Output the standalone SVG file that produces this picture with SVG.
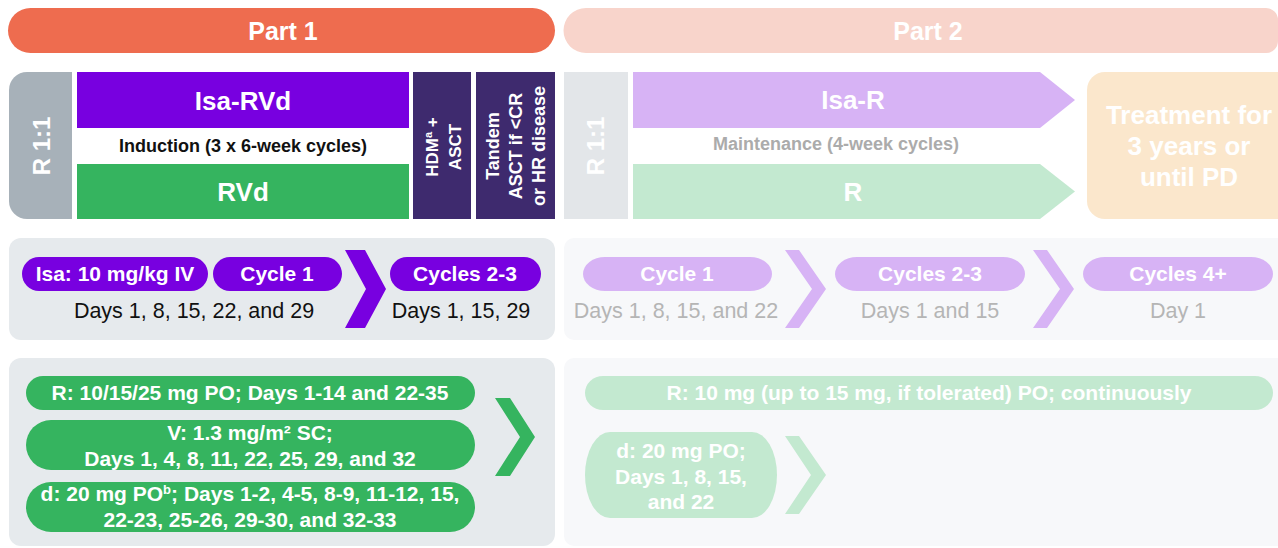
<svg xmlns="http://www.w3.org/2000/svg" width="1278" height="548" viewBox="0 0 1278 548">
<style>
text{font-family:"Liberation Sans",Arial,sans-serif;}
.b{font-weight:bold;}
.w{fill:#ffffff;}
.m{text-anchor:middle;}
.t26{font-size:26px;}
.t25{font-size:25px;}
.t24{font-size:24px;}
.t21{font-size:21px;}
.td{font-size:21.5px;}
.t18{font-size:18px;}
.t17{font-size:17px;}
.pur{fill:#7800E0;}
.grn{fill:#35B45F;}
.lpur{fill:#D7B3F5;}
.lgrn{fill:#C3E9D0;}
.dk{fill:#3E2A6E;}
.day1{fill:#111111;}
.day2{fill:#B5B5B5;}
</style>

<g id="part1-header">
<rect x="8" y="8" width="547" height="45" rx="22.5" fill="#EE6C4F"/>
<text x="283" y="40" class="b w m t25">Part 1</text>
</g>
<g id="part2-header">
<path d="M586,8 H1266 A12,12 0 0 1 1278,20 V41 A12,12 0 0 1 1266,53 H586 A22.5,22.5 0 0 1 586,8 Z" fill="#F8D4CB"/>
<text x="928" y="40" class="b w m t25">Part 2</text>
</g>

<g id="r11-part1">
<path d="M27,72 H72 V219 H27 A18,18 0 0 1 9,201 V90 A18,18 0 0 1 27,72 Z" fill="#A7B1B9"/>
<text transform="translate(50,146) rotate(-90)" class="b w m t24">R 1:1</text>
</g>
<g id="isa-rvd">
<rect x="77" y="72" width="332" height="56" class="pur"/>
<text x="243" y="110" class="b w m t26">Isa-RVd</text>
</g>
<g id="induction-label">
<text x="243" y="152" class="b m t18" fill="#111111">Induction (3 x 6-week cycles)</text>
</g>
<g id="rvd">
<rect x="77" y="164" width="332" height="55" class="grn"/>
<text x="243" y="201" class="b w m t26">RVd</text>
</g>
<g id="hdm-asct">
<rect x="413" y="72" width="58" height="147" class="dk"/>
<text transform="translate(438,147) rotate(-90)" class="b w m t17">HDM<tspan font-size="11" dy="-6">a</tspan><tspan dy="6"> +</tspan></text>
<text transform="translate(461,147) rotate(-90)" class="b w m t17">ASCT</text>
</g>
<g id="tandem-asct">
<rect x="476" y="72" width="79" height="147" class="dk"/>
<text transform="translate(499,146) rotate(-90)" class="b w m t18">Tandem</text>
<text transform="translate(522,146) rotate(-90)" class="b w m t18">ASCT if &lt;CR</text>
<text transform="translate(545,146) rotate(-90)" class="b w m t18">or HR disease</text>
</g>

<g id="r11-part2">
<rect x="564" y="72" width="64" height="147" fill="#E3E6E9"/>
<text transform="translate(604,146) rotate(-90)" class="b w m t24">R 1:1</text>
</g>
<g id="isa-r">
<path d="M633,72 H1040 L1075,100 L1040,128 H633 Z" class="lpur"/>
<text x="853" y="109" class="b w m t26">Isa-R</text>
</g>
<g id="maintenance-label">
<text x="836" y="150" class="b m t18" fill="#ABABAB">Maintenance (4-week cycles)</text>
</g>
<g id="r-arm">
<path d="M633,164 H1040 L1075,191.5 L1040,219 H633 Z" class="lgrn"/>
<text x="853" y="201" class="b w m t26">R</text>
</g>
<g id="treatment-duration">
<path d="M1105,72 H1290 V219 H1105 A18,18 0 0 1 1087,201 V90 A18,18 0 0 1 1105,72 Z" fill="#FBE7CC"/>
<text x="1189" y="124" class="b w m t26">Treatment for</text>
<text x="1189" y="155" class="b w m t26">3 years or</text>
<text x="1189" y="186" class="b w m t26">until PD</text>
</g>

<g id="panel-isa-part1">
<rect x="9" y="238" width="546" height="102" rx="12" fill="#E6EAED"/>
</g>
<g id="pill-isa-dose">
<rect x="22" y="257" width="186" height="34" rx="17" class="pur"/>
<text x="115" y="281" class="b w m t21">Isa: 10 mg/kg IV</text>
</g>
<g id="pill-cycle1-p1">
<rect x="213" y="257" width="129" height="34" rx="17" class="pur"/>
<text x="277" y="281" class="b w m t21">Cycle 1</text>
<text x="194" y="318" class="m td day1">Days 1, 8, 15, 22, and 29</text>
</g>
<g id="pill-cycles23-p1">
<rect x="390" y="257" width="151" height="34" rx="17" class="pur"/>
<text x="465" y="281" class="b w m t21">Cycles 2-3</text>
<text x="461" y="318" class="m td day1">Days 1, 15, 29</text>
</g>

<g id="panel-isa-part2">
<path d="M574,238 H1290 V340 H574 A10,10 0 0 1 564,330 V248 A10,10 0 0 1 574,238 Z" fill="#F7F8FA"/>
</g>
<g id="pill-cycle1-p2">
<rect x="583" y="257" width="189" height="34" rx="22" ry="17" class="lpur"/>
<text x="677" y="281" class="b w m t21">Cycle 1</text>
<text x="676" y="318" class="m td day2">Days 1, 8, 15, and 22</text>
</g>
<g id="pill-cycles23-p2">
<rect x="835" y="257" width="190" height="34" rx="22" ry="17" class="lpur"/>
<text x="930" y="281" class="b w m t21">Cycles 2-3</text>
<text x="930" y="318" class="m td day2">Days 1 and 15</text>
</g>
<g id="pill-cycles4-p2">
<rect x="1083" y="257" width="190" height="34" rx="22" ry="17" class="lpur"/>
<text x="1178" y="281" class="b w m t21">Cycles 4+</text>
<text x="1178" y="318" class="m td day2">Day 1</text>
</g>

<g id="panel-rvd-part1">
<rect x="9" y="358" width="546" height="188" rx="12" fill="#E6EAED"/>
</g>
<g id="pill-r-dose">
<rect x="26" y="376" width="449" height="34" rx="17" class="grn"/>
<text x="250" y="400" class="b w m t21">R: 10/15/25 mg PO; Days 1-14 and 22-35</text>
</g>
<g id="pill-v-dose">
<rect x="26" y="420" width="449" height="50" rx="25" class="grn"/>
<text x="250" y="440" class="b w m t21">V: 1.3 mg/m² SC;</text>
<text x="250" y="466" class="b w m t21">Days 1, 4, 8, 11, 22, 25, 29, and 32</text>
</g>
<g id="pill-d-dose">
<rect x="26" y="482" width="449" height="50" rx="25" class="grn"/>
<text x="250" y="501" class="b w m t21">d: 20 mg PO<tspan font-size="13" dy="-7">b</tspan><tspan dy="7">; Days 1-2, 4-5, 8-9, 11-12, 15,</tspan></text>
<text x="250" y="527" class="b w m t21">22-23, 25-26, 29-30, and 32-33</text>
</g>

<g id="panel-r-part2">
<path d="M574,358 H1290 V546 H574 A10,10 0 0 1 564,536 V368 A10,10 0 0 1 574,358 Z" fill="#F7F8FA"/>
</g>
<g id="pill-r-maint">
<rect x="585" y="376" width="688" height="34" rx="18" ry="17" class="lgrn"/>
<text x="929" y="400" class="b w m t21">R: 10 mg (up to 15 mg, if tolerated) PO; continuously</text>
</g>
<g id="pill-d-maint">
<rect x="585" y="432" width="192" height="86" rx="25" ry="43" class="lgrn"/>
<text x="681" y="458" class="b w m t21">d: 20 mg PO;</text>
<text x="681" y="484" class="b w m t21">Days 1, 8, 15,</text>
<text x="681" y="509" class="b w m t21">and 22</text>
</g>

<g id="connectors">
<polygon points="345,250 365,250 386,289 365,328 345,328 366,289" class="pur"/>
<polygon points="785,250 799,250 826,289 799,328 785,328 812,289" class="lpur"/>
<polygon points="1033,250 1047,250 1074,289 1047,328 1033,328 1060,289" class="lpur"/>
<polygon points="495,398 510,398 535,437 510,476 495,476 520,437" class="grn"/>
<polygon points="785,436 799,436 826,475 799,514 785,514 811,475" class="lgrn"/>
</g>
</svg>
